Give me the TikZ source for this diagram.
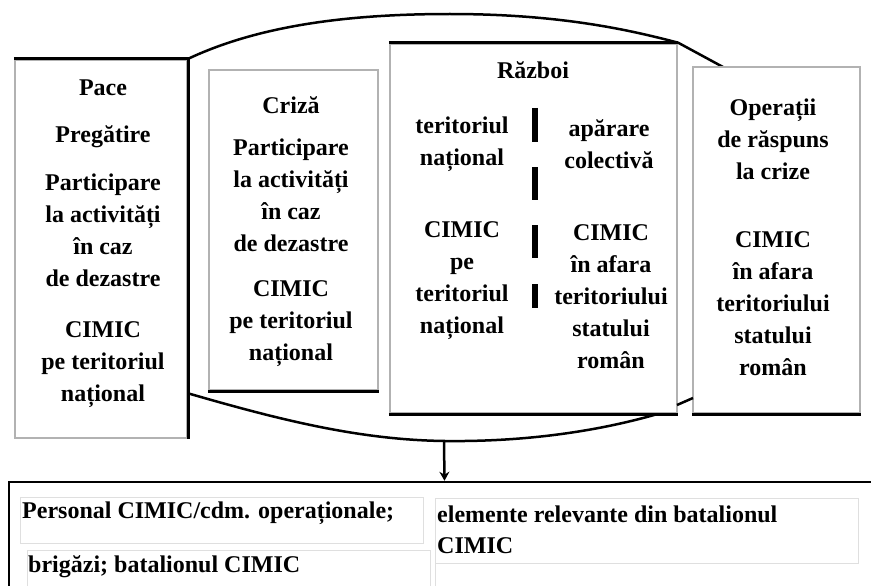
\documentclass[tikz,border=0pt]{standalone}
\usepackage{fontspec}
\setmainfont{Liberation Serif}
\usetikzlibrary{arrows.meta,backgrounds}
\begin{document}
\begin{tikzpicture}[x=1pt,y=-1pt,
  box/.style={draw=gray!60, fill=white, line width=2.5pt, inner sep=0pt},
  blk/.style={draw=black, line width=2.5pt},
  txt/.style={align=center, font=\bfseries\fontsize{24}{32}\selectfont, inner sep=0pt},
  ltxt/.style={anchor=base west, font=\bfseries\fontsize{24}{31}\selectfont, inner sep=0pt},
  lbox/.style={draw=gray!25, line width=1pt},
  sepdash/.style={line width=6pt},
  conn/.style={line width=2.5pt}
]
\useasboundingbox (0,0) rectangle (871,586);

% named free ends
\coordinate (b1) at (187,393);
\coordinate (b2) at (677,408);
\coordinate (optop) at (723,67);
\coordinate (rz1) at (677,405);
\coordinate (opleft) at (693,398);
\coordinate (a0) at (444,441);

% boxes
\node[box, minimum width=172pt, minimum height=378pt] (pace) at (101,249) {};
\node[box, minimum width=169pt, minimum height=320pt] (criza) at (293.5,230) {};
\node[box, minimum width=287pt, minimum height=369pt] (razboi) at (533.5,228.5) {};
\node[box, minimum width=167pt, minimum height=346pt] (oper) at (776.5,240) {};

\draw[blk] (pace.north west) -- (pace.north east) -- (pace.south east);
\draw[blk] (criza.south west) -- (criza.south east);
\draw[blk] (razboi.north west) -- (razboi.north east);
\draw[blk] (razboi.south west) -- (razboi.south east);
\draw[blk] (oper.south west) -- (oper.south east);

% connecting curves, behind the boxes
\begin{scope}[on background layer]
\fill[white] (0,0) rectangle (871,586);
\draw[conn] (pace.north east) .. controls (260,25) and (350,14) .. (450,14)
  .. controls (560,14) and (630,30) .. (razboi.north east) -- (optop);
\draw[conn] (b1) .. controls (280,420) and (360,440) .. (445,441)
  .. controls (530,442) and (610,430) .. (b2);
\end{scope}
\draw[conn] (rz1) -- (opleft);

% bottom box
\node[draw=black, line width=2.5pt, minimum width=871pt, minimum height=118pt, inner sep=0pt] (bottom) at (444.5,541) {};
\draw[conn, -{Stealth[length=9pt,width=10pt]}] (a0) -- (bottom.north);

% inner light boxes
\draw[lbox] (20,497) rectangle (423,543);
\draw[lbox] (27,550) rectangle (430,600);
\draw[lbox] (435,498) rectangle (858,563);
\draw[lbox] (435,563) -- (435,600);

% Pace texts
\node[txt] (p1) at (103,88) {Pace};
\node[txt] (p2) at (103,137) {Pregătire};
\node[txt] (p3) at (103,230) {Participare\\la activități\\în caz\\de dezastre};
\node[txt] (p4) at (103,365) {CIMIC\\pe teritoriul\\național};

% Criza texts
\node[txt] (c1) at (291,105) {Criză};
\node[txt] (c2) at (291,195) {Participare\\la activități\\în caz\\de dezastre};
\node[txt] (c3) at (291,324) {CIMIC\\pe teritoriul\\național};

% Razboi texts
\node[txt] (r0) at (533,70) {Război};
\node[txt] (r1) at (462,144) {teritoriul\\național};
\node[txt] (r2) at (609,144) {apărare\\colectivă};
\node[txt] (r3) at (462,281) {CIMIC\\pe\\teritoriul\\național};
\node[txt] (r4) at (611,297) {CIMIC\\în afara\\teritoriului\\statului\\român};

\coordinate (d1a) at (535,108); \coordinate (d1b) at (535,142);
\coordinate (d2a) at (535,167); \coordinate (d2b) at (535,200);
\coordinate (d3a) at (535,225); \coordinate (d3b) at (535,258);
\coordinate (d4a) at (535,284); \coordinate (d4b) at (535,308);
\draw[sepdash] (d1a) -- (d1b);
\draw[sepdash] (d2a) -- (d2b);
\draw[sepdash] (d3a) -- (d3b);
\draw[sepdash] (d4a) -- (d4b);

% Operatii texts
\node[txt] (o1) at (773,139) {Operații\\de răspuns\\la crize};
\node[txt] (o2) at (773,304) {CIMIC\\în afara\\teritoriului\\statului\\român};

% bottom texts
\node[ltxt] (bl1) at (22,518) {Personal CIMIC/cdm. operaționale;};
\node[ltxt] (bl2) at (28,572) {brigăzi; batalionul CIMIC};
\node[ltxt] (br1) at (437,522) {elemente relevante din batalionul};
\node[ltxt] (br2) at (437,553) {CIMIC};
\end{tikzpicture}
\end{document}
